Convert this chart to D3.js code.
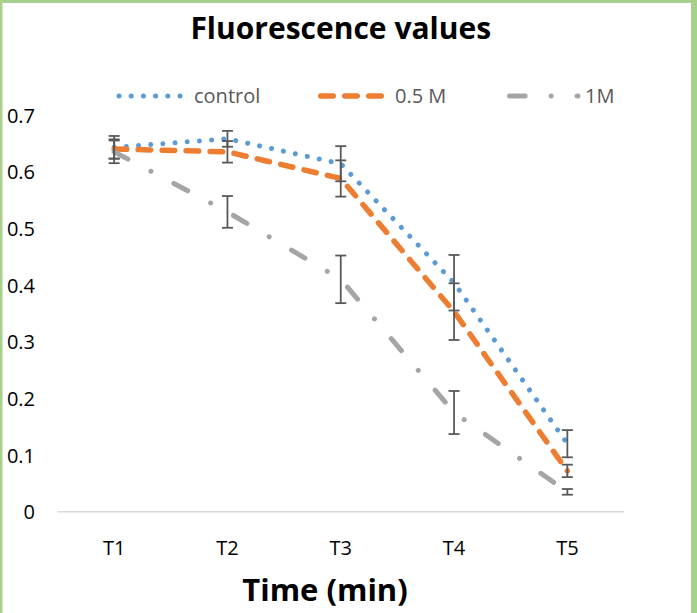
<!DOCTYPE html>
<html>
<head>
<meta charset="utf-8">
<script src="https://cdn.jsdelivr.net/npm/d3@7"></script>
<style>
  html, body { margin: 0; padding: 0; background: #fff; }
  svg { display: block; }
  text { font-family: "Open Sans", "Noto Sans", sans-serif; }
</style>
</head>
<body>
<svg id="chart" width="697" height="613"></svg>
<script>
// Time points on the x axis
const categories = ["T1", "T2", "T3", "T4", "T5"];

// Mean fluorescence per treatment
const controlValues = [0.643, 0.658, 0.614, 0.404, 0.120];
const halfMValues   = [0.640, 0.635, 0.588, 0.353, 0.072];
const oneMValues    = [0.635, 0.529, 0.410, 0.175, 0.035];

// Error (± half-range) per treatment
const controlErrors = [0.020, 0.014, 0.031, 0.049, 0.024];
const halfMErrors   = [0.017, 0.019, 0.032, 0.050, 0.011];
const oneMErrors    = [0.020, 0.028, 0.042, 0.038, 0.005];

// Y-axis tick values
const yTicks = [0, 0.1, 0.2, 0.3, 0.4, 0.5, 0.6, 0.7];

const seriesNames = ["control", "0.5 M", "1M"];

const series = [
  { name: seriesNames[0], values: controlValues, errors: controlErrors,
    color: "#5B9BD5", width: 5, dash: "0.01 12.2" },
  { name: seriesNames[1], values: halfMValues, errors: halfMErrors,
    color: "#ED7D31", width: 5.5, dash: "12.5 11.5" },
  { name: seriesNames[2], values: oneMValues, errors: oneMErrors,
    color: "#A5A5A5", width: 5, dash: "15.6 26 0.01 26" }
];

const svg = d3.select("#chart");
const W = 697, H = 613;

// Chart frame (green outline)
const frameColor = "#A9D18E";
svg.append("rect").attr("x", 0).attr("y", 0).attr("width", W).attr("height", H).attr("fill", "#fff");
svg.append("rect").attr("x", 0).attr("y", 0).attr("width", W).attr("height", 3).attr("fill", frameColor);
svg.append("rect").attr("x", 0).attr("y", 0).attr("width", 2.5).attr("height", H).attr("fill", frameColor);
svg.append("rect").attr("x", 691).attr("y", 0).attr("width", 6).attr("height", H).attr("fill", frameColor);

const plot = { left: 57.5, right: 624, top: 115, bottom: 511.7 };

const x = d3.scaleBand().domain(categories).range([plot.left, plot.right]).padding(0);
const cx = c => x(c) + x.bandwidth() / 2;
const y = d3.scaleLinear().domain([0, 0.7]).range([plot.bottom, plot.top]);

// Title
svg.append("text")
  .attr("x", (plot.left + plot.right) / 2).attr("y", 39)
  .attr("text-anchor", "middle")
  .attr("font-size", 30).attr("font-weight", 700).attr("fill", "#000")
  .text("Fluorescence values");

// Y axis labels (no axis line, no ticks)
const yAxis = d3.axisLeft(y).tickValues(yTicks).tickFormat(d3.format("~g")).tickSize(0).tickPadding(0);
const yG = svg.append("g").attr("transform", "translate(35,0)").call(yAxis);
yG.select(".domain").remove();
yG.selectAll("text")
  .attr("font-family", "'Open Sans', sans-serif")
  .attr("font-size", 20).attr("fill", "#000").attr("dy", "0.35em");

// Baseline
svg.append("line")
  .attr("x1", plot.left).attr("x2", plot.right)
  .attr("y1", y(0)).attr("y2", y(0))
  .attr("stroke", "#D9D9D9").attr("stroke-width", 1.5);

// X axis labels
const xAxis = d3.axisBottom(x).tickSize(0).tickPadding(0);
const xG = svg.append("g").attr("transform", "translate(0,555)").call(xAxis);
xG.select(".domain").remove();
xG.selectAll("text")
  .attr("font-family", "'Open Sans', sans-serif")
  .attr("font-size", 20).attr("fill", "#000").attr("dy", 0);

// X axis title
svg.append("text")
  .attr("x", 325).attr("y", 601)
  .attr("text-anchor", "middle")
  .attr("font-size", 31).attr("font-weight", 700).attr("fill", "#000")
  .text("Time (min)");

// Series lines
const line = d3.line().x((d, i) => cx(categories[i])).y(d => y(d));
series.forEach(s => {
  svg.append("path")
    .datum(s.values)
    .attr("d", line)
    .attr("fill", "none")
    .attr("stroke", s.color)
    .attr("stroke-width", s.width)
    .attr("stroke-dasharray", s.dash)
    .attr("stroke-linecap", "round")
    .attr("stroke-linejoin", "round");
});

// Error bars
const capHalf = 5.5;
series.forEach(s => {
  const g = svg.append("g").attr("stroke", "#595959").attr("stroke-width", 1.8);
  s.values.forEach((v, i) => {
    const px = cx(categories[i]);
    const yHi = y(v + s.errors[i]), yLo = y(v - s.errors[i]);
    g.append("line").attr("x1", px).attr("x2", px).attr("y1", yHi).attr("y2", yLo);
    g.append("line").attr("x1", px - capHalf).attr("x2", px + capHalf).attr("y1", yHi).attr("y2", yHi);
    g.append("line").attr("x1", px - capHalf).attr("x2", px + capHalf).attr("y1", yLo).attr("y2", yLo);
  });
});

// Legend
const legendY = 96;
const legendItems = [
  { x0: 119, x1: 181, tx: 194 },
  { x0: 320.75, x1: 381.25, tx: 395 },
  { x0: 509.5, x1: 578, tx: 585 }
];
series.forEach((s, i) => {
  const it = legendItems[i];
  svg.append("line")
    .attr("x1", it.x0).attr("x2", it.x1)
    .attr("y1", legendY).attr("y2", legendY)
    .attr("stroke", s.color).attr("stroke-width", s.width)
    .attr("stroke-dasharray", s.dash).attr("stroke-linecap", "round");
  svg.append("text")
    .attr("x", it.tx).attr("y", legendY).attr("dy", "0.35em")
    .attr("font-size", 20).attr("fill", "#595959")
    .text(s.name);
});
</script>
</body>
</html>
